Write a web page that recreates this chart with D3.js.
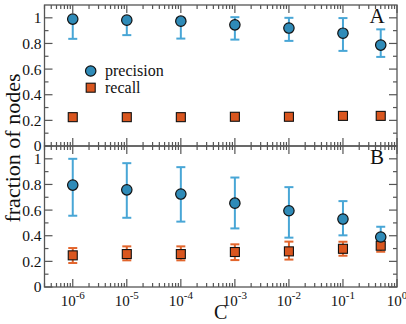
<!DOCTYPE html>
<html><head><meta charset="utf-8">
<script src="https://cdn.jsdelivr.net/npm/d3@7"></script>
<style>body{margin:0;background:#fff}svg{display:block}text{font-family:"Liberation Serif","DejaVu Serif",serif}</style>
</head><body>
<svg id="c" width="406" height="324"></svg>
<script>
const C = [1e-6, 1e-5, 1e-4, 1e-3, 1e-2, 1e-1, 0.5];
const precA    = [0.990, 0.982, 0.974, 0.945, 0.920, 0.880, 0.787];
const precA_lo = [0.836, 0.865, 0.838, 0.830, 0.820, 0.742, 0.695];
const precA_hi = [1.000, 1.000, 1.000, 1.005, 1.000, 0.998, 0.910];
const recA     = [0.225, 0.225, 0.225, 0.228, 0.228, 0.235, 0.235];
const precB    = [0.795, 0.758, 0.725, 0.654, 0.595, 0.530, 0.390];
const precB_lo = [0.556, 0.540, 0.510, 0.457, 0.385, 0.403, 0.360];
const precB_hi = [1.000, 0.966, 0.935, 0.854, 0.779, 0.670, 0.470];
const recB     = [0.247, 0.257, 0.257, 0.273, 0.278, 0.298, 0.322];
const recB_lo  = [0.187, 0.208, 0.208, 0.210, 0.214, 0.244, 0.275];
const recB_hi  = [0.304, 0.317, 0.317, 0.333, 0.354, 0.353, 0.374];
const yTicks = [0, 0.2, 0.4, 0.6, 0.8, 1];
const xTickExp = [-6, -5, -4, -3, -2, -1, 0];
const panelLabels = ["A", "B"];
const legendLabels = ["precision", "recall"];

const svg = d3.select("#c");
const L = 44.5, R = 397;
const panels = [{top: 5, bottom: 146}, {top: 146, bottom: 287}];
const x = d3.scaleLog().domain([3e-7, 1]).range([L, R]);
const frameCol = "#555";
const blueFill = "#2f8bb8", blueBar = "#48a6d6";
const orFill = "#d9561f", orBar = "#e2652c";

const majorX = xTickExp.map(e => Math.pow(10, e));
const minorX = [];
for (let e = -7; e < 0; e++) for (let k = 2; k <= 9; k++) {
  const v = k * Math.pow(10, e);
  if (v >= 3e-7 && v < 1) minorX.push(v);
}

const data = [
  {prec: precA, plo: precA_lo, phi: precA_hi, rec: recA, rlo: null, rhi: null},
  {prec: precB, plo: precB_lo, phi: precB_hi, rec: recB, rlo: recB_lo, rhi: recB_hi}
];

panels.forEach((p, i) => {
  const y = d3.scaleLinear().domain([0, 1.1]).range([p.bottom, p.top]);
  const g = svg.append("g");
  g.append("rect").attr("x", L).attr("y", p.top).attr("width", R - L).attr("height", p.bottom - p.top)
    .attr("fill", "none").attr("stroke", frameCol).attr("stroke-width", 1.3);
  const minorY = d3.range(0, 11).map(d => d / 10);
  minorY.forEach(v => {
    const major = Math.abs(v * 5 - Math.round(v * 5)) < 1e-6;
    const len = major ? 8 : 4;
    g.append("line").attr("x1", L).attr("x2", L + len).attr("y1", y(v)).attr("y2", y(v)).attr("stroke", frameCol).attr("stroke-width", 1.2);
    g.append("line").attr("x1", R).attr("x2", R - len).attr("y1", y(v)).attr("y2", y(v)).attr("stroke", frameCol).attr("stroke-width", 1.2);
  });
  yTicks.forEach(v => {
    g.append("text").attr("x", L - 3).attr("y", y(v)).attr("dy", "0.35em")
      .attr("text-anchor", "end").attr("font-size", 15.5).attr("fill", "#111")
      .text(v === 0 ? "0" : (v === 1 ? "1" : d3.format(".1f")(v)));
  });
  const xt = (v, len) => {
    g.append("line").attr("x1", x(v)).attr("x2", x(v)).attr("y1", p.bottom).attr("y2", p.bottom - len).attr("stroke", frameCol).attr("stroke-width", 1.2);
    g.append("line").attr("x1", x(v)).attr("x2", x(v)).attr("y1", p.top).attr("y2", p.top + len).attr("stroke", frameCol).attr("stroke-width", 1.2);
  };
  majorX.forEach(v => xt(v, 8));
  minorX.forEach(v => xt(v, 4));

  const d = data[i];
  const cap = 4.5;
  const bar = (lo, hi, col) => {
    C.forEach((c, j) => {
      const cx = x(c);
      g.append("line").attr("x1", cx).attr("x2", cx).attr("y1", y(lo[j])).attr("y2", y(hi[j])).attr("stroke", col).attr("stroke-width", 2);
      [lo[j], hi[j]].forEach(v => g.append("line").attr("x1", cx - cap).attr("x2", cx + cap).attr("y1", y(v)).attr("y2", y(v)).attr("stroke", col).attr("stroke-width", 2));
    });
  };
  if (d.rlo) bar(d.rlo, d.rhi, orBar);
  bar(d.plo, d.phi, blueBar);
  g.selectAll(".sq").data(d.rec).enter().append("rect")
    .attr("x", (v, j) => x(C[j]) - 4.5).attr("y", v => y(v) - 4.5).attr("width", 9).attr("height", 9)
    .attr("fill", orFill).attr("stroke", "#111").attr("stroke-width", 1.1);
  g.selectAll(".ci").data(d.prec).enter().append("circle")
    .attr("cx", (v, j) => x(C[j])).attr("cy", v => y(v)).attr("r", 5.2)
    .attr("fill", blueFill).attr("stroke", "#111").attr("stroke-width", 1.2);

  g.append("text").attr("x", 377).attr("y", p.top + 18).attr("text-anchor", "middle")
    .attr("font-size", 21).attr("fill", "#111").text(panelLabels[i]);
});

const bottom = panels[1].bottom;
majorX.forEach((v, j) => {
  const t = svg.append("text").attr("x", x(v)).attr("y", bottom + 19).attr("text-anchor", "middle")
    .attr("font-size", 15).attr("fill", "#111");
  t.append("tspan").text("10");
  t.append("tspan").attr("dy", -7).attr("font-size", 11).text(xTickExp[j]);
});

svg.append("circle").attr("cx", 90.7).attr("cy", 71).attr("r", 5.2).attr("fill", blueFill).attr("stroke", "#111").attr("stroke-width", 1.2);
svg.append("rect").attr("x", 86.2).attr("y", 83.2).attr("width", 9).attr("height", 9).attr("fill", orFill).attr("stroke", "#111").attr("stroke-width", 1.1);
legendLabels.forEach((s, k) => {
  svg.append("text").attr("x", 105).attr("y", 76 + k * 17).attr("font-size", 16).attr("fill", "#111").text(s);
});

svg.append("text").attr("transform", "translate(20,148) rotate(-90)").attr("text-anchor", "middle")
  .attr("font-size", 22).attr("fill", "#111").text("fraction of nodes");
svg.append("text").attr("x", (L + R) / 2).attr("y", 319).attr("text-anchor", "middle")
  .attr("font-size", 20).attr("fill", "#111").text("C");
</script>
</body></html>
